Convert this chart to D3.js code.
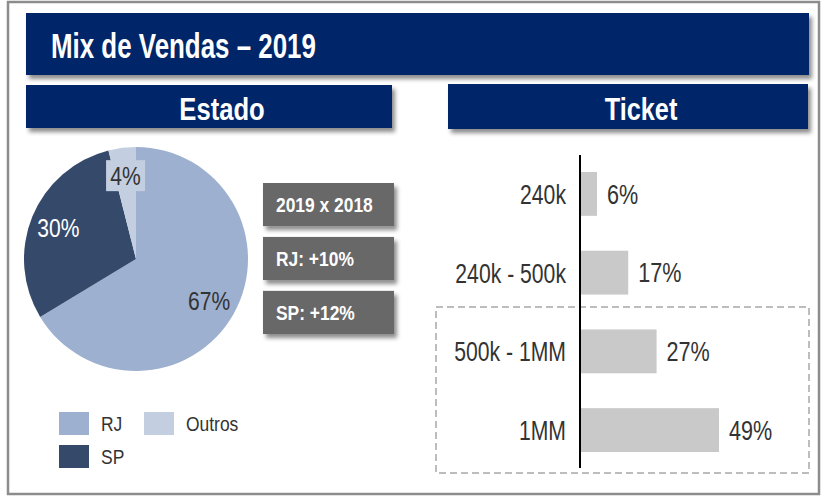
<!DOCTYPE html>
<html>
<head>
<meta charset="utf-8">
<script src="https://cdn.jsdelivr.net/npm/d3@7"></script>
<style>
  html, body { margin: 0; padding: 0; background: #fff; }
  svg { display: block; }
  text { font-family: "Liberation Sans Narrow", "Arial Narrow", "Liberation Sans", sans-serif; }
</style>
</head>
<body>
<div id="chart"></div>
<script>
// chart data
const stateNames = ["RJ", "SP", "Outros"];
const stateShare = [67, 30, 4];
const stateColors = ["#9db0cf", "#354a6b", "#c3cee0"];
const growthNotes = ["2019 x 2018", "RJ: +10%", "SP: +12%"];
const ticketBands = ["240k", "240k - 500k", "500k - 1MM", "1MM"];
const ticketShare = [6, 17, 27, 49];

const width = 827, height = 498;
const navy = "#062769";

const svg = d3.select("#chart").append("svg")
  .attr("width", width)
  .attr("height", height);

// squeeze text horizontally, the original uses a narrow face
function condense(sel, f) {
  sel.each(function () {
    const len = this.getComputedTextLength();
    d3.select(this)
      .attr("textLength", len * f)
      .attr("lengthAdjust", "spacingAndGlyphs");
  });
  return sel;
}

const defs = svg.append("defs");
defs.append("filter")
  .attr("id", "shadow")
  .attr("x", "-10%").attr("y", "-20%")
  .attr("width", "130%").attr("height", "160%")
  .append("feDropShadow")
  .attr("dx", 3).attr("dy", 4)
  .attr("stdDeviation", 2)
  .attr("flood-color", "#000")
  .attr("flood-opacity", 0.45);

// outer frame
svg.append("rect")
  .attr("x", 8).attr("y", 2)
  .attr("width", 811).attr("height", 492)
  .attr("fill", "#fff")
  .attr("stroke", "#8c8c8c")
  .attr("stroke-width", 2.5);

// banners
function banner(x, y, w, h, label, tx, anchor, size, f, shift) {
  svg.append("rect")
    .attr("x", x).attr("y", y)
    .attr("width", w).attr("height", h)
    .attr("fill", navy)
    .attr("filter", "url(#shadow)");
  svg.append("text")
    .attr("x", tx).attr("y", y + h / 2 + shift)
    .attr("dy", "0.36em")
    .attr("text-anchor", anchor)
    .attr("fill", "#fff")
    .attr("font-weight", "bold")
    .attr("font-size", size)
    .text(label)
    .call(condense, f);
}
banner(26, 13, 783, 62, "Mix de Vendas \u2013 2019", 51, "start", 35, 0.74, 1.5);
banner(26, 85, 366, 43, "Estado", 222, "middle", 32, 0.8, 2);
banner(448, 84, 360, 45, "Ticket", 641, "middle", 32, 0.79, 2);

// ---- pie (Estado) ----
const cx = 136, cy = 259, radius = 112;
const pie = d3.pie().sort(null).value(d => d.value);
const slices = pie(stateNames.map((n, i) => ({ name: n, value: stateShare[i], color: stateColors[i] })));
const arc = d3.arc().innerRadius(0).outerRadius(radius);
const labelArc = d3.arc().innerRadius(84).outerRadius(84);

const pieG = svg.append("g").attr("transform", `translate(${cx},${cy})`);
pieG.selectAll("path")
  .data(slices)
  .join("path")
  .attr("d", arc)
  .attr("fill", d => d.data.color);

const labelColor = { RJ: "#333", SP: "#fff", Outros: "#333" };
slices.forEach(d => {
  const [lx, ly] = labelArc.centroid(d);
  if (d.data.name === "Outros") {
    pieG.append("rect")
      .attr("x", lx - 19.5).attr("y", ly - 15.5)
      .attr("width", 39).attr("height", 31)
      .attr("fill", d.data.color);
  }
  pieG.append("text")
    .attr("x", lx).attr("y", ly)
    .attr("dy", "0.36em")
    .attr("text-anchor", "middle")
    .attr("font-size", 26)
    .attr("fill", labelColor[d.data.name])
    .text(d.data.value + "%")
    .call(condense, 0.81);
});

// growth notes
const noteY = d3.scaleBand().domain(growthNotes).range([183, 334]).paddingInner(0.2);
growthNotes.forEach(n => {
  svg.append("rect")
    .attr("x", 263).attr("y", noteY(n))
    .attr("width", 131).attr("height", noteY.bandwidth())
    .attr("fill", "#676767")
    .attr("filter", "url(#shadow)");
  svg.append("text")
    .attr("x", 276).attr("y", noteY(n) + noteY.bandwidth() / 2)
    .attr("dy", "0.36em")
    .attr("fill", "#fff")
    .attr("font-weight", "bold")
    .attr("font-size", 20)
    .text(n)
    .call(condense, 0.87);
});

// legend
const legendPos = [[59, 412], [59, 445], [144, 412]];
stateNames.forEach((n, i) => {
  const [lx, ly] = legendPos[i];
  svg.append("rect")
    .attr("x", lx).attr("y", ly)
    .attr("width", 30).attr("height", 23)
    .attr("fill", stateColors[i]);
  svg.append("text")
    .attr("x", lx + 42).attr("y", ly + 11.5)
    .attr("dy", "0.36em")
    .attr("font-size", 21)
    .attr("fill", "#333")
    .text(n)
    .call(condense, 0.83);
});

// ---- bars (Ticket) ----
const x0 = 580;
const x = d3.scaleLinear().domain([0, 49]).range([x0, 719]);
const y = d3.scaleBand().domain(ticketBands).range([172, 452]).paddingInner(0.443);

// dashed highlight around the two upper bands
svg.append("rect")
  .attr("x", 436).attr("y", 307)
  .attr("width", 373).attr("height", 166)
  .attr("fill", "none")
  .attr("stroke", "#bdbdbd")
  .attr("stroke-width", 2)
  .attr("stroke-dasharray", "7,4");

svg.append("g")
  .selectAll("rect")
  .data(ticketBands)
  .join("rect")
  .attr("x", x0)
  .attr("y", d => y(d))
  .attr("width", (d, i) => x(ticketShare[i]) - x0)
  .attr("height", y.bandwidth())
  .attr("fill", "#c9c9c9");

svg.append("line")
  .attr("x1", x0).attr("x2", x0)
  .attr("y1", 155).attr("y2", 468)
  .attr("stroke", "#000")
  .attr("stroke-width", 2);

svg.append("g")
  .selectAll("text")
  .data(ticketBands)
  .join("text")
  .attr("x", 566)
  .attr("y", d => y(d) + y.bandwidth() / 2)
  .attr("dy", "0.36em")
  .attr("text-anchor", "end")
  .attr("font-size", 27.5)
  .attr("fill", "#333")
  .text(d => d)
  .call(condense, 0.77);

svg.append("g")
  .selectAll("text")
  .data(ticketBands)
  .join("text")
  .attr("x", (d, i) => x(ticketShare[i]) + 10)
  .attr("y", d => y(d) + y.bandwidth() / 2)
  .attr("dy", "0.36em")
  .attr("font-size", 27)
  .attr("fill", "#333")
  .text((d, i) => ticketShare[i] + "%")
  .call(condense, 0.8);
</script>
</body>
</html>
